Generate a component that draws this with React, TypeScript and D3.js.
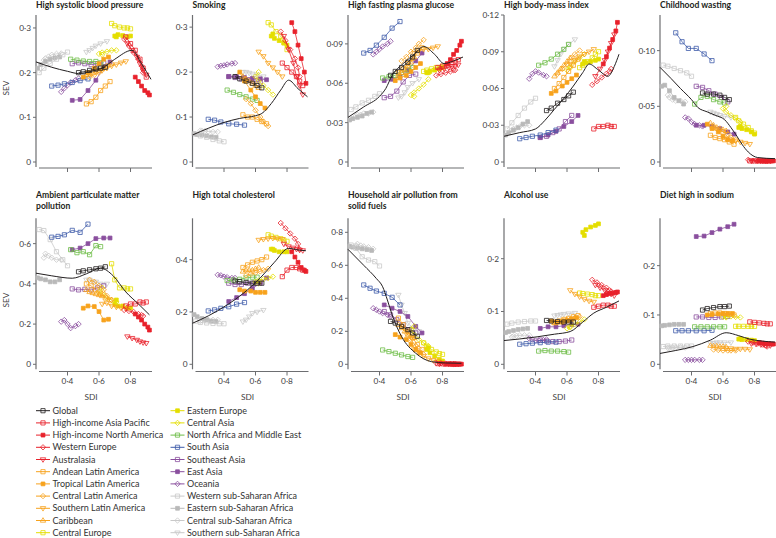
import React from "react";
import * as d3 from "d3";

// ---- regions (legend order) ----
const regionNames = [
  "Global",
  "High-income Asia Pacific",
  "High-income North America",
  "Western Europe",
  "Australasia",
  "Andean Latin America",
  "Tropical Latin America",
  "Central Latin America",
  "Southern Latin America",
  "Caribbean",
  "Central Europe",
  "Eastern Europe",
  "Central Asia",
  "North Africa and Middle East",
  "South Asia",
  "Southeast Asia",
  "East Asia",
  "Oceania",
  "Western sub-Saharan Africa",
  "Eastern sub-Saharan Africa",
  "Central sub-Saharan Africa",
  "Southern sub-Saharan Africa",
];

// SDI per region, 1990 -> 2016 (6 time points)
const sdiByRegion = [
  [0.47, 0.5, 0.54, 0.58, 0.61, 0.64],
  [0.77, 0.8, 0.83, 0.86, 0.88, 0.9],
  [0.83, 0.85, 0.87, 0.89, 0.91, 0.92],
  [0.76, 0.79, 0.82, 0.85, 0.87, 0.88],
  [0.78, 0.81, 0.84, 0.86, 0.88, 0.9],
  [0.52, 0.55, 0.58, 0.61, 0.64, 0.67],
  [0.5, 0.53, 0.57, 0.6, 0.63, 0.66],
  [0.54, 0.57, 0.6, 0.63, 0.65, 0.68],
  [0.62, 0.65, 0.68, 0.71, 0.74, 0.77],
  [0.52, 0.54, 0.56, 0.58, 0.6, 0.62],
  [0.68, 0.7, 0.73, 0.76, 0.78, 0.8],
  [0.71, 0.7, 0.72, 0.75, 0.78, 0.8],
  [0.62, 0.6, 0.62, 0.65, 0.68, 0.71],
  [0.42, 0.46, 0.5, 0.54, 0.58, 0.61],
  [0.3, 0.34, 0.38, 0.43, 0.48, 0.53],
  [0.43, 0.47, 0.51, 0.55, 0.59, 0.63],
  [0.43, 0.48, 0.53, 0.58, 0.63, 0.67],
  [0.36, 0.38, 0.4, 0.42, 0.45, 0.47],
  [0.22, 0.25, 0.29, 0.33, 0.37, 0.4],
  [0.21, 0.23, 0.26, 0.29, 0.32, 0.35],
  [0.25, 0.26, 0.28, 0.3, 0.33, 0.36],
  [0.52, 0.54, 0.56, 0.58, 0.61, 0.65],
];

// ---- SEV per region per panel ----
const sevSystolic = [
  [0.2, 0.202, 0.205, 0.208, 0.21, 0.212],
  [0.28, 0.265, 0.25, 0.23, 0.21, 0.19],
  [0.19, 0.18, 0.17, 0.16, 0.155, 0.15],
  [0.275, 0.26, 0.245, 0.23, 0.215, 0.2],
  [0.265, 0.25, 0.235, 0.22, 0.205, 0.195],
  [0.13, 0.135, 0.145, 0.16, 0.17, 0.18],
  [0.19, 0.2, 0.21, 0.22, 0.23, 0.235],
  [0.19, 0.195, 0.2, 0.21, 0.215, 0.22],
  [0.205, 0.21, 0.215, 0.218, 0.222, 0.225],
  [0.195, 0.198, 0.2, 0.203, 0.205, 0.208],
  [0.31, 0.305, 0.302, 0.3, 0.3, 0.298],
  [0.28, 0.282, 0.285, 0.283, 0.28, 0.282],
  [0.24, 0.242, 0.245, 0.247, 0.25, 0.25],
  [0.23, 0.228, 0.226, 0.225, 0.225, 0.222],
  [0.17, 0.172, 0.175, 0.178, 0.182, 0.186],
  [0.22, 0.222, 0.22, 0.218, 0.22, 0.222],
  [0.138, 0.14, 0.16, 0.183, 0.213, 0.224],
  [0.157, 0.165, 0.172, 0.178, 0.183, 0.187],
  [0.2, 0.21, 0.22, 0.23, 0.24, 0.246],
  [0.21, 0.218, 0.225, 0.23, 0.233, 0.235],
  [0.228, 0.232, 0.236, 0.24, 0.242, 0.243],
  [0.246, 0.25, 0.255, 0.26, 0.265, 0.27],
];
const sevSmoking = [
  [0.19, 0.185, 0.18, 0.175, 0.17, 0.165],
  [0.22, 0.21, 0.2, 0.19, 0.18, 0.17],
  [0.31, 0.29, 0.26, 0.23, 0.2, 0.175],
  [0.29, 0.27, 0.25, 0.23, 0.21, 0.19],
  [0.28, 0.25, 0.22, 0.19, 0.17, 0.15],
  [0.105, 0.1, 0.1, 0.095, 0.09, 0.085],
  [0.2, 0.18, 0.16, 0.145, 0.13, 0.12],
  [0.14, 0.13, 0.115, 0.1, 0.09, 0.08],
  [0.245, 0.235, 0.22, 0.21, 0.2, 0.19],
  [0.19, 0.185, 0.18, 0.175, 0.17, 0.165],
  [0.31, 0.305, 0.29, 0.28, 0.265, 0.25],
  [0.285, 0.28, 0.275, 0.27, 0.265, 0.26],
  [0.2, 0.19, 0.18, 0.17, 0.16, 0.15],
  [0.16, 0.155, 0.15, 0.145, 0.14, 0.137],
  [0.095, 0.093, 0.089, 0.085, 0.084, 0.082],
  [0.19, 0.188, 0.185, 0.183, 0.18, 0.178],
  [0.19, 0.19, 0.188, 0.186, 0.185, 0.183],
  [0.212, 0.214, 0.215, 0.217, 0.219, 0.22],
  [0.062, 0.058, 0.055, 0.05, 0.047, 0.045],
  [0.063, 0.061, 0.06, 0.058, 0.056, 0.055],
  [0.07, 0.069, 0.069, 0.068, 0.067, 0.067],
  [0.2, 0.2, 0.198, 0.196, 0.194, 0.19],
];
const sevGlucose = [
  [0.066, 0.069, 0.072, 0.076, 0.08, 0.085],
  [0.072, 0.073, 0.074, 0.076, 0.077, 0.078],
  [0.075, 0.078, 0.082, 0.085, 0.089, 0.092],
  [0.066, 0.067, 0.068, 0.069, 0.07, 0.07],
  [0.07, 0.071, 0.072, 0.073, 0.073, 0.074],
  [0.068, 0.071, 0.075, 0.079, 0.083, 0.087],
  [0.062, 0.064, 0.066, 0.069, 0.072, 0.075],
  [0.077, 0.08, 0.084, 0.087, 0.09, 0.093],
  [0.083, 0.085, 0.086, 0.086, 0.087, 0.088],
  [0.066, 0.068, 0.07, 0.073, 0.076, 0.08],
  [0.069, 0.07, 0.071, 0.072, 0.072, 0.073],
  [0.068, 0.068, 0.069, 0.07, 0.071, 0.072],
  [0.05, 0.051, 0.053, 0.056, 0.059, 0.063],
  [0.064, 0.065, 0.066, 0.068, 0.07, 0.072],
  [0.083, 0.085, 0.089, 0.095, 0.102, 0.107],
  [0.049, 0.05, 0.054, 0.061, 0.066, 0.067],
  [0.062, 0.063, 0.065, 0.07, 0.077, 0.083],
  [0.082, 0.084, 0.086, 0.088, 0.09, 0.092],
  [0.04, 0.042, 0.045, 0.047, 0.05, 0.052],
  [0.032, 0.033, 0.034, 0.035, 0.037, 0.038],
  [0.035, 0.036, 0.036, 0.037, 0.037, 0.038],
  [0.049, 0.05, 0.053, 0.057, 0.06, 0.063],
];
const sevBmi = [
  [0.042, 0.044, 0.048, 0.051, 0.054, 0.057],
  [0.027, 0.029, 0.029, 0.03, 0.029, 0.029],
  [0.08, 0.086, 0.093, 0.1, 0.107, 0.114],
  [0.063, 0.066, 0.069, 0.072, 0.074, 0.076],
  [0.07, 0.076, 0.083, 0.09, 0.097, 0.104],
  [0.06, 0.064, 0.069, 0.074, 0.079, 0.084],
  [0.056, 0.058, 0.062, 0.065, 0.068, 0.071],
  [0.072, 0.076, 0.08, 0.085, 0.088, 0.091],
  [0.08, 0.083, 0.086, 0.088, 0.09, 0.092],
  [0.07, 0.073, 0.076, 0.079, 0.082, 0.085],
  [0.077, 0.079, 0.082, 0.085, 0.088, 0.09],
  [0.082, 0.08, 0.081, 0.082, 0.083, 0.084],
  [0.077, 0.075, 0.078, 0.082, 0.085, 0.088],
  [0.079, 0.081, 0.084, 0.088, 0.092, 0.096],
  [0.019, 0.02, 0.021, 0.022, 0.024, 0.026],
  [0.02, 0.021, 0.024, 0.027, 0.033, 0.038],
  [0.02, 0.022, 0.025, 0.029, 0.033, 0.038],
  [0.068, 0.072, 0.074, 0.073, 0.071, 0.07],
  [0.027, 0.032, 0.038, 0.044, 0.049, 0.052],
  [0.022, 0.024, 0.026, 0.028, 0.031, 0.033],
  [0.026, 0.027, 0.028, 0.029, 0.03, 0.03],
  [0.078, 0.083, 0.088, 0.092, 0.096, 0.1],
];
const sevWasting = [
  [0.062, 0.061, 0.061, 0.06, 0.058, 0.056],
  [0.001, 0.001, 0.001, 0.001, 0.001, 0.001],
  [0.001, 0.001, 0.001, 0.001, 0.001, 0.001],
  [0.002, 0.001, 0.001, 0.001, 0.001, 0.001],
  [0.001, 0.001, 0.001, 0.001, 0.001, 0.001],
  [0.024, 0.022, 0.021, 0.02, 0.018, 0.016],
  [0.034, 0.03, 0.027, 0.023, 0.02, 0.019],
  [0.031, 0.029, 0.027, 0.025, 0.022, 0.02],
  [0.021, 0.02, 0.019, 0.018, 0.017, 0.016],
  [0.035, 0.033, 0.031, 0.03, 0.029, 0.028],
  [0.04, 0.037, 0.034, 0.031, 0.028, 0.026],
  [0.032, 0.031, 0.03, 0.029, 0.027, 0.025],
  [0.05, 0.048, 0.045, 0.042, 0.039, 0.036],
  [0.052, 0.058, 0.059, 0.056, 0.054, 0.053],
  [0.116, 0.108, 0.102, 0.102, 0.097, 0.091],
  [0.068, 0.067, 0.064, 0.061, 0.058, 0.054],
  [0.033, 0.033, 0.032, 0.03, 0.027, 0.025],
  [0.04, 0.039, 0.036, 0.034, 0.033, 0.032],
  [0.087, 0.086, 0.084, 0.082, 0.08, 0.077],
  [0.068, 0.069, 0.064, 0.058, 0.055, 0.052],
  [0.06, 0.058, 0.056, 0.055, 0.055, 0.054],
  [0.045, 0.044, 0.043, 0.042, 0.041, 0.04],
];
const sevAmbientPm = [
  [0.46, 0.465, 0.47, 0.475, 0.478, 0.485],
  [0.29, 0.3, 0.3, 0.31, 0.305, 0.31],
  [0.25, 0.235, 0.22, 0.2, 0.185, 0.17],
  [0.27, 0.265, 0.26, 0.25, 0.245, 0.24],
  [0.138, 0.13, 0.121, 0.113, 0.108, 0.105],
  [0.4, 0.39, 0.37, 0.35, 0.33, 0.32],
  [0.279, 0.29, 0.287, 0.262, 0.22, 0.224],
  [0.42, 0.41, 0.39, 0.37, 0.34, 0.32],
  [0.3, 0.305, 0.29, 0.285, 0.28, 0.28],
  [0.37, 0.36, 0.355, 0.35, 0.345, 0.34],
  [0.5, 0.42, 0.38, 0.38, 0.375, 0.375],
  [0.32, 0.3, 0.29, 0.29, 0.28, 0.28],
  [0.38, 0.36, 0.35, 0.33, 0.32, 0.31],
  [0.57, 0.555, 0.56, 0.545, 0.59, 0.585],
  [0.632, 0.636, 0.644, 0.666, 0.656, 0.697],
  [0.375, 0.37, 0.373, 0.37, 0.38, 0.39],
  [0.57, 0.578, 0.6, 0.625, 0.628, 0.628],
  [0.212, 0.22, 0.2, 0.18, 0.19, 0.2],
  [0.67, 0.665, 0.62, 0.56, 0.52, 0.49],
  [0.43, 0.425, 0.42, 0.41, 0.41, 0.42],
  [0.53, 0.55, 0.54, 0.53, 0.52, 0.52],
  [0.42, 0.42, 0.41, 0.41, 0.4, 0.4],
];
const sevCholesterol = [
  [0.318, 0.316, 0.313, 0.31, 0.31, 0.31],
  [0.335, 0.36, 0.37, 0.37, 0.365, 0.36],
  [0.43, 0.41, 0.39, 0.37, 0.36, 0.355],
  [0.54, 0.52, 0.5, 0.48, 0.46, 0.44],
  [0.46, 0.45, 0.445, 0.44, 0.437, 0.435],
  [0.37, 0.38, 0.39, 0.395, 0.4, 0.41],
  [0.285, 0.28, 0.28, 0.275, 0.275, 0.275],
  [0.34, 0.345, 0.35, 0.355, 0.36, 0.365],
  [0.475, 0.478, 0.48, 0.482, 0.48, 0.478],
  [0.355, 0.36, 0.36, 0.36, 0.365, 0.37],
  [0.495, 0.49, 0.485, 0.48, 0.475, 0.47],
  [0.44, 0.44, 0.435, 0.43, 0.43, 0.43],
  [0.31, 0.315, 0.32, 0.325, 0.33, 0.335],
  [0.32, 0.322, 0.325, 0.33, 0.333, 0.333],
  [0.204, 0.208, 0.214, 0.22, 0.23, 0.236],
  [0.31, 0.305, 0.305, 0.31, 0.31, 0.315],
  [0.24, 0.255, 0.27, 0.29, 0.31, 0.33],
  [0.342, 0.34, 0.335, 0.333, 0.33, 0.33],
  [0.165, 0.16, 0.158, 0.156, 0.155, 0.155],
  [0.19, 0.182, 0.175, 0.17, 0.165, 0.163],
  [0.165, 0.168, 0.17, 0.17, 0.17, 0.17],
  [0.163, 0.17, 0.182, 0.195, 0.2, 0.207],
];
const sevHouseholdAir = [
  [0.26, 0.25, 0.23, 0.21, 0.19, 0.17],
  [0.004, 0.003, 0.002, 0.002, 0.001, 0.001],
  [0.002, 0.002, 0.001, 0.001, 0.001, 0.001],
  [0.008, 0.006, 0.004, 0.003, 0.002, 0.002],
  [0.003, 0.002, 0.002, 0.001, 0.001, 0.001],
  [0.28, 0.24, 0.2, 0.16, 0.12, 0.09],
  [0.18, 0.165, 0.15, 0.12, 0.09, 0.07],
  [0.23, 0.19, 0.15, 0.11, 0.08, 0.06],
  [0.09, 0.07, 0.05, 0.035, 0.025, 0.02],
  [0.24, 0.22, 0.2, 0.18, 0.17, 0.16],
  [0.13, 0.11, 0.09, 0.075, 0.065, 0.06],
  [0.1, 0.09, 0.07, 0.05, 0.03, 0.02],
  [0.23, 0.21, 0.18, 0.15, 0.13, 0.11],
  [0.087, 0.077, 0.067, 0.057, 0.047, 0.042],
  [0.481, 0.461, 0.444, 0.43, 0.406, 0.36],
  [0.32, 0.3, 0.27, 0.24, 0.21, 0.19],
  [0.36, 0.34, 0.32, 0.29, 0.23, 0.19],
  [0.34, 0.33, 0.32, 0.31, 0.3, 0.29],
  [0.723, 0.703, 0.652, 0.632, 0.622, 0.596],
  [0.715, 0.71, 0.705, 0.7, 0.695, 0.69],
  [0.72, 0.73, 0.72, 0.715, 0.71, 0.7],
  [0.42, 0.36, 0.31, 0.25, 0.22, 0.2],
];
const sevAlcohol = [
  [0.083, 0.082, 0.081, 0.08, 0.08, 0.08],
  [0.108, 0.11, 0.112, 0.112, 0.11, 0.11],
  [0.13, 0.132, 0.134, 0.135, 0.136, 0.137],
  [0.16, 0.155, 0.15, 0.145, 0.14, 0.138],
  [0.15, 0.145, 0.14, 0.135, 0.133, 0.13],
  [0.08, 0.082, 0.085, 0.087, 0.09, 0.092],
  [0.082, 0.08, 0.08, 0.082, 0.085, 0.088],
  [0.08, 0.082, 0.084, 0.086, 0.088, 0.09],
  [0.14, 0.133, 0.128, 0.123, 0.12, 0.118],
  [0.078, 0.08, 0.08, 0.082, 0.083, 0.085],
  [0.135, 0.134, 0.133, 0.132, 0.13, 0.13],
  [0.244, 0.25, 0.255, 0.26, 0.263, 0.266],
  [0.07, 0.068, 0.072, 0.076, 0.08, 0.085],
  [0.025, 0.026, 0.025, 0.025, 0.024, 0.023],
  [0.038, 0.039, 0.04, 0.041, 0.042, 0.042],
  [0.046, 0.044, 0.043, 0.043, 0.044, 0.046],
  [0.068, 0.071, 0.071, 0.073, 0.075, 0.076],
  [0.049, 0.047, 0.045, 0.045, 0.046, 0.047],
  [0.076, 0.078, 0.08, 0.081, 0.082, 0.082],
  [0.06, 0.062, 0.064, 0.066, 0.067, 0.068],
  [0.052, 0.053, 0.054, 0.055, 0.055, 0.055],
  [0.092, 0.093, 0.094, 0.095, 0.096, 0.097],
];
const sevSodium = [
  [0.11, 0.113, 0.115, 0.117, 0.117, 0.118],
  [0.086, 0.085, 0.084, 0.083, 0.082, 0.082],
  [0.044, 0.043, 0.042, 0.042, 0.041, 0.041],
  [0.046, 0.044, 0.042, 0.04, 0.038, 0.036],
  [0.042, 0.041, 0.04, 0.04, 0.039, 0.038],
  [0.103, 0.104, 0.104, 0.103, 0.102, 0.1],
  [0.1, 0.101, 0.102, 0.103, 0.103, 0.103],
  [0.03, 0.029, 0.028, 0.028, 0.028, 0.028],
  [0.032, 0.032, 0.031, 0.031, 0.031, 0.03],
  [0.038, 0.037, 0.037, 0.036, 0.036, 0.035],
  [0.077, 0.077, 0.077, 0.077, 0.077, 0.077],
  [0.052, 0.051, 0.05, 0.05, 0.049, 0.048],
  [0.095, 0.096, 0.097, 0.097, 0.096, 0.095],
  [0.076, 0.076, 0.076, 0.076, 0.076, 0.076],
  [0.068, 0.068, 0.068, 0.068, 0.068, 0.069],
  [0.096, 0.096, 0.095, 0.095, 0.096, 0.097],
  [0.259, 0.26, 0.267, 0.274, 0.279, 0.284],
  [0.009, 0.009, 0.009, 0.009, 0.009, 0.009],
  [0.036, 0.037, 0.037, 0.037, 0.037, 0.037],
  [0.078, 0.079, 0.08, 0.081, 0.081, 0.081],
  [0.033, 0.033, 0.034, 0.034, 0.034, 0.034],
  [0.043, 0.043, 0.044, 0.044, 0.044, 0.044],
];

// expected SEV by SDI (black curve), [sdi, sev]
const expSystolic = [[0.2, 0.224], [0.3, 0.212], [0.4, 0.203], [0.47, 0.198], [0.55, 0.203], [0.62, 0.21], [0.7, 0.23], [0.81, 0.25], [0.87, 0.22], [0.93, 0.185]];
const expSmoking = [[0.2, 0.06], [0.3, 0.075], [0.4, 0.088], [0.5, 0.097], [0.6, 0.103], [0.64, 0.108], [0.7, 0.13], [0.76, 0.16], [0.81, 0.182], [0.87, 0.163], [0.93, 0.145]];
const expGlucose = [[0.2, 0.034], [0.3, 0.042], [0.4, 0.05], [0.44, 0.056], [0.48, 0.066], [0.55, 0.075], [0.62, 0.082], [0.68, 0.088], [0.75, 0.082], [0.81, 0.075], [0.87, 0.077], [0.93, 0.08]];
const expBmi = [[0.2, 0.021], [0.3, 0.024], [0.4, 0.027], [0.46, 0.034], [0.52, 0.043], [0.58, 0.052], [0.64, 0.062], [0.7, 0.073], [0.74, 0.08], [0.8, 0.075], [0.86, 0.07], [0.9, 0.078], [0.93, 0.088]];
const expWasting = [[0.2, 0.085], [0.27, 0.075], [0.33, 0.066], [0.4, 0.056], [0.44, 0.049], [0.5, 0.045], [0.55, 0.042], [0.61, 0.038], [0.65, 0.031], [0.68, 0.025], [0.72, 0.016], [0.76, 0.009], [0.82, 0.004], [0.93, 0.003]];
const expAmbientPm = [[0.2, 0.453], [0.3, 0.44], [0.43, 0.428], [0.52, 0.45], [0.61, 0.478], [0.69, 0.44], [0.77, 0.36], [0.85, 0.3], [0.92, 0.246]];
const expCholesterol = [[0.2, 0.157], [0.3, 0.185], [0.42, 0.227], [0.52, 0.27], [0.63, 0.33], [0.72, 0.39], [0.81, 0.443], [0.87, 0.437], [0.92, 0.434]];
const expHouseholdAir = [[0.2, 0.697], [0.3, 0.6], [0.38, 0.52], [0.42, 0.47], [0.45, 0.39], [0.48, 0.3], [0.54, 0.168], [0.63, 0.067], [0.73, 0.016], [0.82, 0.008], [0.92, 0.006]];
const expAlcohol = [[0.2, 0.045], [0.3, 0.048], [0.41, 0.052], [0.52, 0.057], [0.62, 0.062], [0.7, 0.08], [0.77, 0.097], [0.85, 0.108], [0.93, 0.12]];
const expSodium = [[0.2, 0.022], [0.3, 0.028], [0.41, 0.036], [0.52, 0.049], [0.62, 0.064], [0.7, 0.058], [0.77, 0.051], [0.85, 0.047], [0.93, 0.045]];

const panelTitles = [
  ["High systolic blood pressure"],
  ["Smoking"],
  ["High fasting plasma glucose"],
  ["High body-mass index"],
  ["Childhood wasting"],
  ["Ambient particulate matter", "pollution"],
  ["High total cholesterol"],
  ["Household air pollution from", "solid fuels"],
  ["Alcohol use"],
  ["Diet high in sodium"],
];
const panelSev = [sevSystolic, sevSmoking, sevGlucose, sevBmi, sevWasting, sevAmbientPm, sevCholesterol, sevHouseholdAir, sevAlcohol, sevSodium];
const panelExpected = [expSystolic, expSmoking, expGlucose, expBmi, expWasting, expAmbientPm, expCholesterol, expHouseholdAir, expAlcohol, expSodium];
const panelYMax = [0.329, 0.327, 0.112, 0.12, 0.132, 0.726, 0.558, 0.885, 0.2765, 0.296];
const panelYTicks = [
  [0, 0.1, 0.2, 0.3],
  [0, 0.1, 0.2, 0.3],
  [0, 0.03, 0.06, 0.09],
  [0, 0.03, 0.06, 0.09, 0.12],
  [0, 0.05, 0.1],
  [0, 0.2, 0.4, 0.6],
  [0, 0.2, 0.4],
  [0, 0.2, 0.4, 0.6, 0.8],
  [0, 0.1, 0.2],
  [0, 0.1, 0.2],
];
const panelYDecimals = [1, 1, 2, 2, 2, 1, 1, 1, 1, 1];
const xTicks = [0.4, 0.6, 0.8];

// ---- styles ----
const C = {
  black: "#231f20",
  red: "#e8212b",
  orange: "#f7a21c",
  yellow: "#e4de00",
  green: "#6cbd45",
  blue: "#3f5ca9",
  purple: "#8a4f9e",
  lightGray: "#c9c9c9",
  gray: "#b9b9b9",
};
const regionColors = [
  C.black, C.red, C.red, C.red, C.red,
  C.orange, C.orange, C.orange, C.orange, C.orange,
  C.yellow, C.yellow, C.yellow, C.green, C.blue,
  C.purple, C.purple, C.purple,
  C.lightGray, C.gray, C.lightGray, C.lightGray,
];
const regionShapes = [
  "square", "square", "filled", "diamond", "triDown",
  "square", "filled", "diamond", "triDown", "triUp",
  "square", "filled", "diamond", "square", "square",
  "square", "filled", "diamond",
  "square", "filled", "diamond", "triDown",
];

const FONT = "Lato, 'Open Sans', sans-serif";
const AXIS_X = [36, 192.5, 348, 504, 660];
const ROWS = [
  { top: 15, zero: 162, xAxisY: 168, titleY: 8 },
  { top: 218.3, zero: 364.3, xAxisY: 371.5, titleY: 198 },
];
const AXIS_COLOR = "#6d6e71";
const TEXT_COLOR = "#414042";

function markerPath(shape: string) {
  switch (shape) {
    case "diamond":
      return "M0,-2.7L2.7,0L0,2.7L-2.7,0Z";
    case "triDown":
      return "M-2.7,-1.7L2.7,-1.7L0,2.8Z";
    case "triUp":
      return "M-2.7,1.7L2.7,1.7L0,-2.8Z";
    case "filled":
      return "M-1.9,-1.9h3.8v3.8h-3.8Z";
    default:
      return "M-2.1,-2.1h4.2v4.2h-4.2Z";
  }
}

function Marker({ x, y, shape, color }: { x: number; y: number; shape: string; color: string }) {
  const filled = shape === "filled";
  return (
    <path
      d={markerPath(shape)}
      transform={`translate(${x},${y})`}
      fill={filled ? color : "none"}
      stroke={color}
      strokeWidth={0.8}
    />
  );
}

const fmtTick = (v: number, dec: number) => (v === 0 ? "0" : v.toFixed(dec).replace(".", "·"));

function Panel({ idx }: { idx: number }) {
  const row = ROWS[Math.floor(idx / 5)];
  const ax = AXIS_X[idx % 5];
  const x = d3.scaleLinear().domain([0.2, 0.93]).range([ax, ax + 115]);
  const y = d3.scaleLinear().domain([0, panelYMax[idx]]).range([row.zero, row.top]);
  const line = d3
    .line<number[]>()
    .x(d => x(d[0]))
    .y(d => y(d[1]));
  const curve = d3
    .line<number[]>()
    .x(d => x(d[0]))
    .y(d => y(d[1]))
    .curve(d3.curveMonotoneX);
  const sev = panelSev[idx];
  const order = d3.range(regionNames.length).slice(1).reverse().concat([0]);
  const bottomRow = idx >= 5;

  return (
    <g>
      {panelTitles[idx].map((t, i) => (
        <text key={i} x={ax} y={row.titleY + i * 10.8} fontSize={8.6} fontWeight={700} fill="#231f20">
          {t}
        </text>
      ))}

      {/* axes */}
      <line x1={ax} x2={ax} y1={row.top} y2={row.zero + 5} stroke={AXIS_COLOR} strokeWidth={1.2} />
      <line x1={ax + 3} x2={ax + 116} y1={row.xAxisY} y2={row.xAxisY} stroke={AXIS_COLOR} strokeWidth={1.2} />
      {panelYTicks[idx].map(t => (
        <g key={t}>
          <line x1={ax - 3} x2={ax} y1={y(t)} y2={y(t)} stroke={AXIS_COLOR} strokeWidth={1} />
          <text x={ax - 5} y={y(t)} dy="0.35em" textAnchor="end" fontSize={8.3} fill={TEXT_COLOR}>
            {fmtTick(t, panelYDecimals[idx])}
          </text>
        </g>
      ))}
      {xTicks.map(t => (
        <g key={t}>
          <line x1={x(t)} x2={x(t)} y1={row.xAxisY} y2={row.xAxisY + 4} stroke={AXIS_COLOR} strokeWidth={1} />
          {bottomRow && (
            <text x={x(t)} y={row.xAxisY + 10} dy="0.35em" textAnchor="middle" fontSize={8.3} fill={TEXT_COLOR}>
              {fmtTick(t, 1)}
            </text>
          )}
        </g>
      ))}
      {bottomRow && (
        <text x={ax + 55} y={row.xAxisY + 26} dy="0.35em" textAnchor="middle" fontSize={8.3} fill={TEXT_COLOR}>
          SDI
        </text>
      )}
      {idx % 5 === 0 && (
        <text
          transform={`translate(${9},${bottomRow ? 300 : 88}) rotate(-90)`}
          textAnchor="middle"
          fontSize={8.3}
          fill={TEXT_COLOR}
        >
          SEV
        </text>
      )}

      {/* region trajectories */}
      {order.map(r => {
        const pts = sdiByRegion[r].map((s, k) => [s, sev[r][k]]);
        return (
          <g key={r}>
            <path d={line(pts) || ""} fill="none" stroke={regionColors[r]} strokeWidth={0.8} />
            {pts.map((p, k) => (
              <Marker key={k} x={x(p[0])} y={y(p[1])} shape={regionShapes[r]} color={regionColors[r]} />
            ))}
          </g>
        );
      })}

      {/* expected value by SDI */}
      <path d={curve(panelExpected[idx]) || ""} fill="none" stroke={C.black} strokeWidth={1} />
    </g>
  );
}

function Legend() {
  const cols = [
    { x0: 36, n0: 0 },
    { x0: 170.5, n0: 11 },
  ];
  return (
    <g>
      {cols.map(col =>
        d3.range(11).map(i => {
          const r = col.n0 + i;
          const yy = 410.7 + i * 12.2;
          return (
            <g key={r}>
              <line x1={col.x0} x2={col.x0 + 14} y1={yy} y2={yy} stroke={regionColors[r]} strokeWidth={1} />
              <Marker x={col.x0 + 7} y={yy} shape={regionShapes[r]} color={regionColors[r]} />
              <text x={col.x0 + 16.5} y={yy} dy="0.35em" fontSize={9} fill="#333">
                {regionNames[r]}
              </text>
            </g>
          );
        })
      )}
    </g>
  );
}

export default function App() {
  return (
    <svg
      width={776}
      height={538}
      style={{ position: "absolute", left: 0, top: 0, background: "#fff", fontFamily: FONT }}
    >
      {d3.range(10).map(i => (
        <Panel key={i} idx={i} />
      ))}
      <Legend />
    </svg>
  );
}
